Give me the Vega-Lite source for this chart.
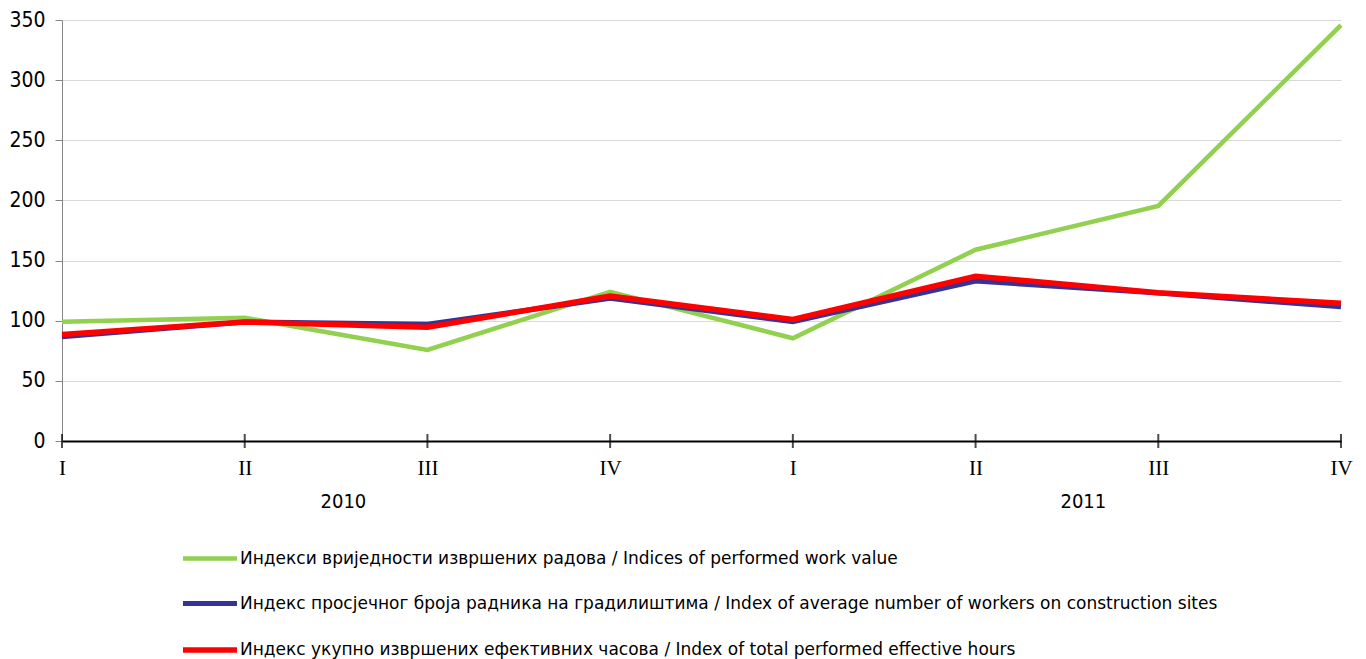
{
  "$schema": "https://vega.github.io/schema/vega-lite/v6.json",
  "width": 1279,
  "height": 421,
  "autosize": {"type": "none"},
  "padding": {"left": 62, "top": 20, "right": 25, "bottom": 218},
  "background": "white",
  "config": {"view": {"stroke": null}, "font": "DejaVu Sans Condensed"},
  "datasets": {
    "idx": [
      {"q": 0, "s": "Индекси вриједности извршених радова / Indices of performed work value", "v": 99.2},
      {"q": 1, "s": "Индекси вриједности извршених радова / Indices of performed work value", "v": 102.5},
      {"q": 2, "s": "Индекси вриједности извршених радова / Indices of performed work value", "v": 75.7},
      {"q": 3, "s": "Индекси вриједности извршених радова / Indices of performed work value", "v": 124.1},
      {"q": 4, "s": "Индекси вриједности извршених радова / Indices of performed work value", "v": 85.4},
      {"q": 5, "s": "Индекси вриједности извршених радова / Indices of performed work value", "v": 159},
      {"q": 6, "s": "Индекси вриједности извршених радова / Indices of performed work value", "v": 195.4},
      {"q": 7, "s": "Индекси вриједности извршених радова / Indices of performed work value", "v": 345.8},
      {"q": 0, "s": "Индекс просјечног броја радника на градилиштима / Index of average number of workers on construction sites", "v": 86.7},
      {"q": 1, "s": "Индекс просјечног броја радника на градилиштима / Index of average number of workers on construction sites", "v": 99},
      {"q": 2, "s": "Индекс просјечног броја радника на градилиштима / Index of average number of workers on construction sites", "v": 97},
      {"q": 3, "s": "Индекс просјечног броја радника на градилиштима / Index of average number of workers on construction sites", "v": 118.6},
      {"q": 4, "s": "Индекс просјечног броја радника на градилиштима / Index of average number of workers on construction sites", "v": 99.2},
      {"q": 5, "s": "Индекс просјечног броја радника на градилиштима / Index of average number of workers on construction sites", "v": 133},
      {"q": 6, "s": "Индекс просјечног броја радника на градилиштима / Index of average number of workers on construction sites", "v": 123},
      {"q": 7, "s": "Индекс просјечног броја радника на градилиштима / Index of average number of workers on construction sites", "v": 111.5},
      {"q": 0, "s": "Индекс укупно извршених ефективних часова / Index of total performed effective hours", "v": 88.5},
      {"q": 1, "s": "Индекс укупно извршених ефективних часова / Index of total performed effective hours", "v": 99},
      {"q": 2, "s": "Индекс укупно извршених ефективних часова / Index of total performed effective hours", "v": 94.5},
      {"q": 3, "s": "Индекс укупно извршених ефективних часова / Index of total performed effective hours", "v": 120.5},
      {"q": 4, "s": "Индекс укупно извршених ефективних часова / Index of total performed effective hours", "v": 101},
      {"q": 5, "s": "Индекс укупно извршених ефективних часова / Index of total performed effective hours", "v": 137},
      {"q": 6, "s": "Индекс укупно извршених ефективних часова / Index of total performed effective hours", "v": 123.3},
      {"q": 7, "s": "Индекс укупно извршених ефективних часова / Index of total performed effective hours", "v": 114.5}
    ],
    "years": [
      {"pos": 1.54, "year": "2010"},
      {"pos": 5.59, "year": "2011"}
    ]
  },
  "data": {"name": "idx"},
  "layer": [
    {
      "mark": {"type": "line", "strokeJoin": "miter", "strokeCap": "butt"},
      "encoding": {
        "x": {
          "field": "q", "type": "quantitative",
          "scale": {"domain": [0, 7], "nice": false, "zero": false},
          "axis": {
            "values": [0, 1, 2, 3, 4, 5, 6, 7],
            "labelExpr": "['I','II','III','IV'][datum.value % 4]",
            "labelFont": "Liberation Serif", "labelFontSize": 21, "labelColor": "#000000",
            "ticks": false, "grid": false, "domainColor": "#000000", "domainWidth": 2,
            "labelPadding": 16, "labelFlush": false, "title": null
          }
        },
        "y": {
          "field": "v", "type": "quantitative",
          "scale": {"domain": [0, 350], "nice": false},
          "axis": {
            "values": [0, 50, 100, 150, 200, 250, 300, 350],
            "labelFont": "DejaVu Sans Condensed", "labelFontSize": 21, "labelColor": "#000000",
            "tickSize": 7, "tickColor": "#868686", "domainColor": "#868686",
            "gridColor": "#D9D9D9", "labelPadding": 10, "title": null
          }
        },
        "color": {
          "field": "s", "type": "nominal",
          "scale": {
            "domain": [
              "Индекси вриједности извршених радова / Indices of performed work value",
              "Индекс просјечног броја радника на градилиштима / Index of average number of workers on construction sites",
              "Индекс укупно извршених ефективних часова / Index of total performed effective hours"
            ],
            "range": ["#92D050", "#333399", "#FF0000"]
          },
          "legend": {
            "orient": "none", "legendX": 118, "legendY": 509, "title": null,
            "direction": "vertical",
            "symbolType": "stroke", "symbolSize": 2916, "symbolStrokeWidth": 5,
            "labelFont": "DejaVu Sans", "labelFontSize": 17, "labelColor": "#000000",
            "labelOffset": 0, "labelLimit": 0, "rowPadding": 6
          }
        },
        "strokeWidth": {
          "field": "s", "type": "nominal",
          "scale": {
            "domain": [
              "Индекси вриједности извршених радова / Indices of performed work value",
              "Индекс просјечног броја радника на градилиштима / Index of average number of workers on construction sites",
              "Индекс укупно извршених ефективних часова / Index of total performed effective hours"
            ],
            "range": [4.5, 5.5, 5.5]
          },
          "legend": null
        }
      }
    },
    {
      "transform": [{"filter": "datum.v > 0 && indexof(datum.s, 'Индекси') == 0"}],
      "mark": {"type": "tick", "orient": "vertical", "size": 14, "thickness": 2, "color": "#000000"},
      "encoding": {
        "x": {"field": "q", "type": "quantitative"},
        "y": {"datum": 0}
      }
    },
    {
      "data": {"name": "years"},
      "mark": {"type": "text", "fontSize": 20, "font": "DejaVu Sans Condensed", "baseline": "middle", "dy": 61, "color": "#000000"},
      "encoding": {
        "x": {"field": "pos", "type": "quantitative"},
        "y": {"datum": 0},
        "text": {"field": "year"}
      }
    }
  ]
}
